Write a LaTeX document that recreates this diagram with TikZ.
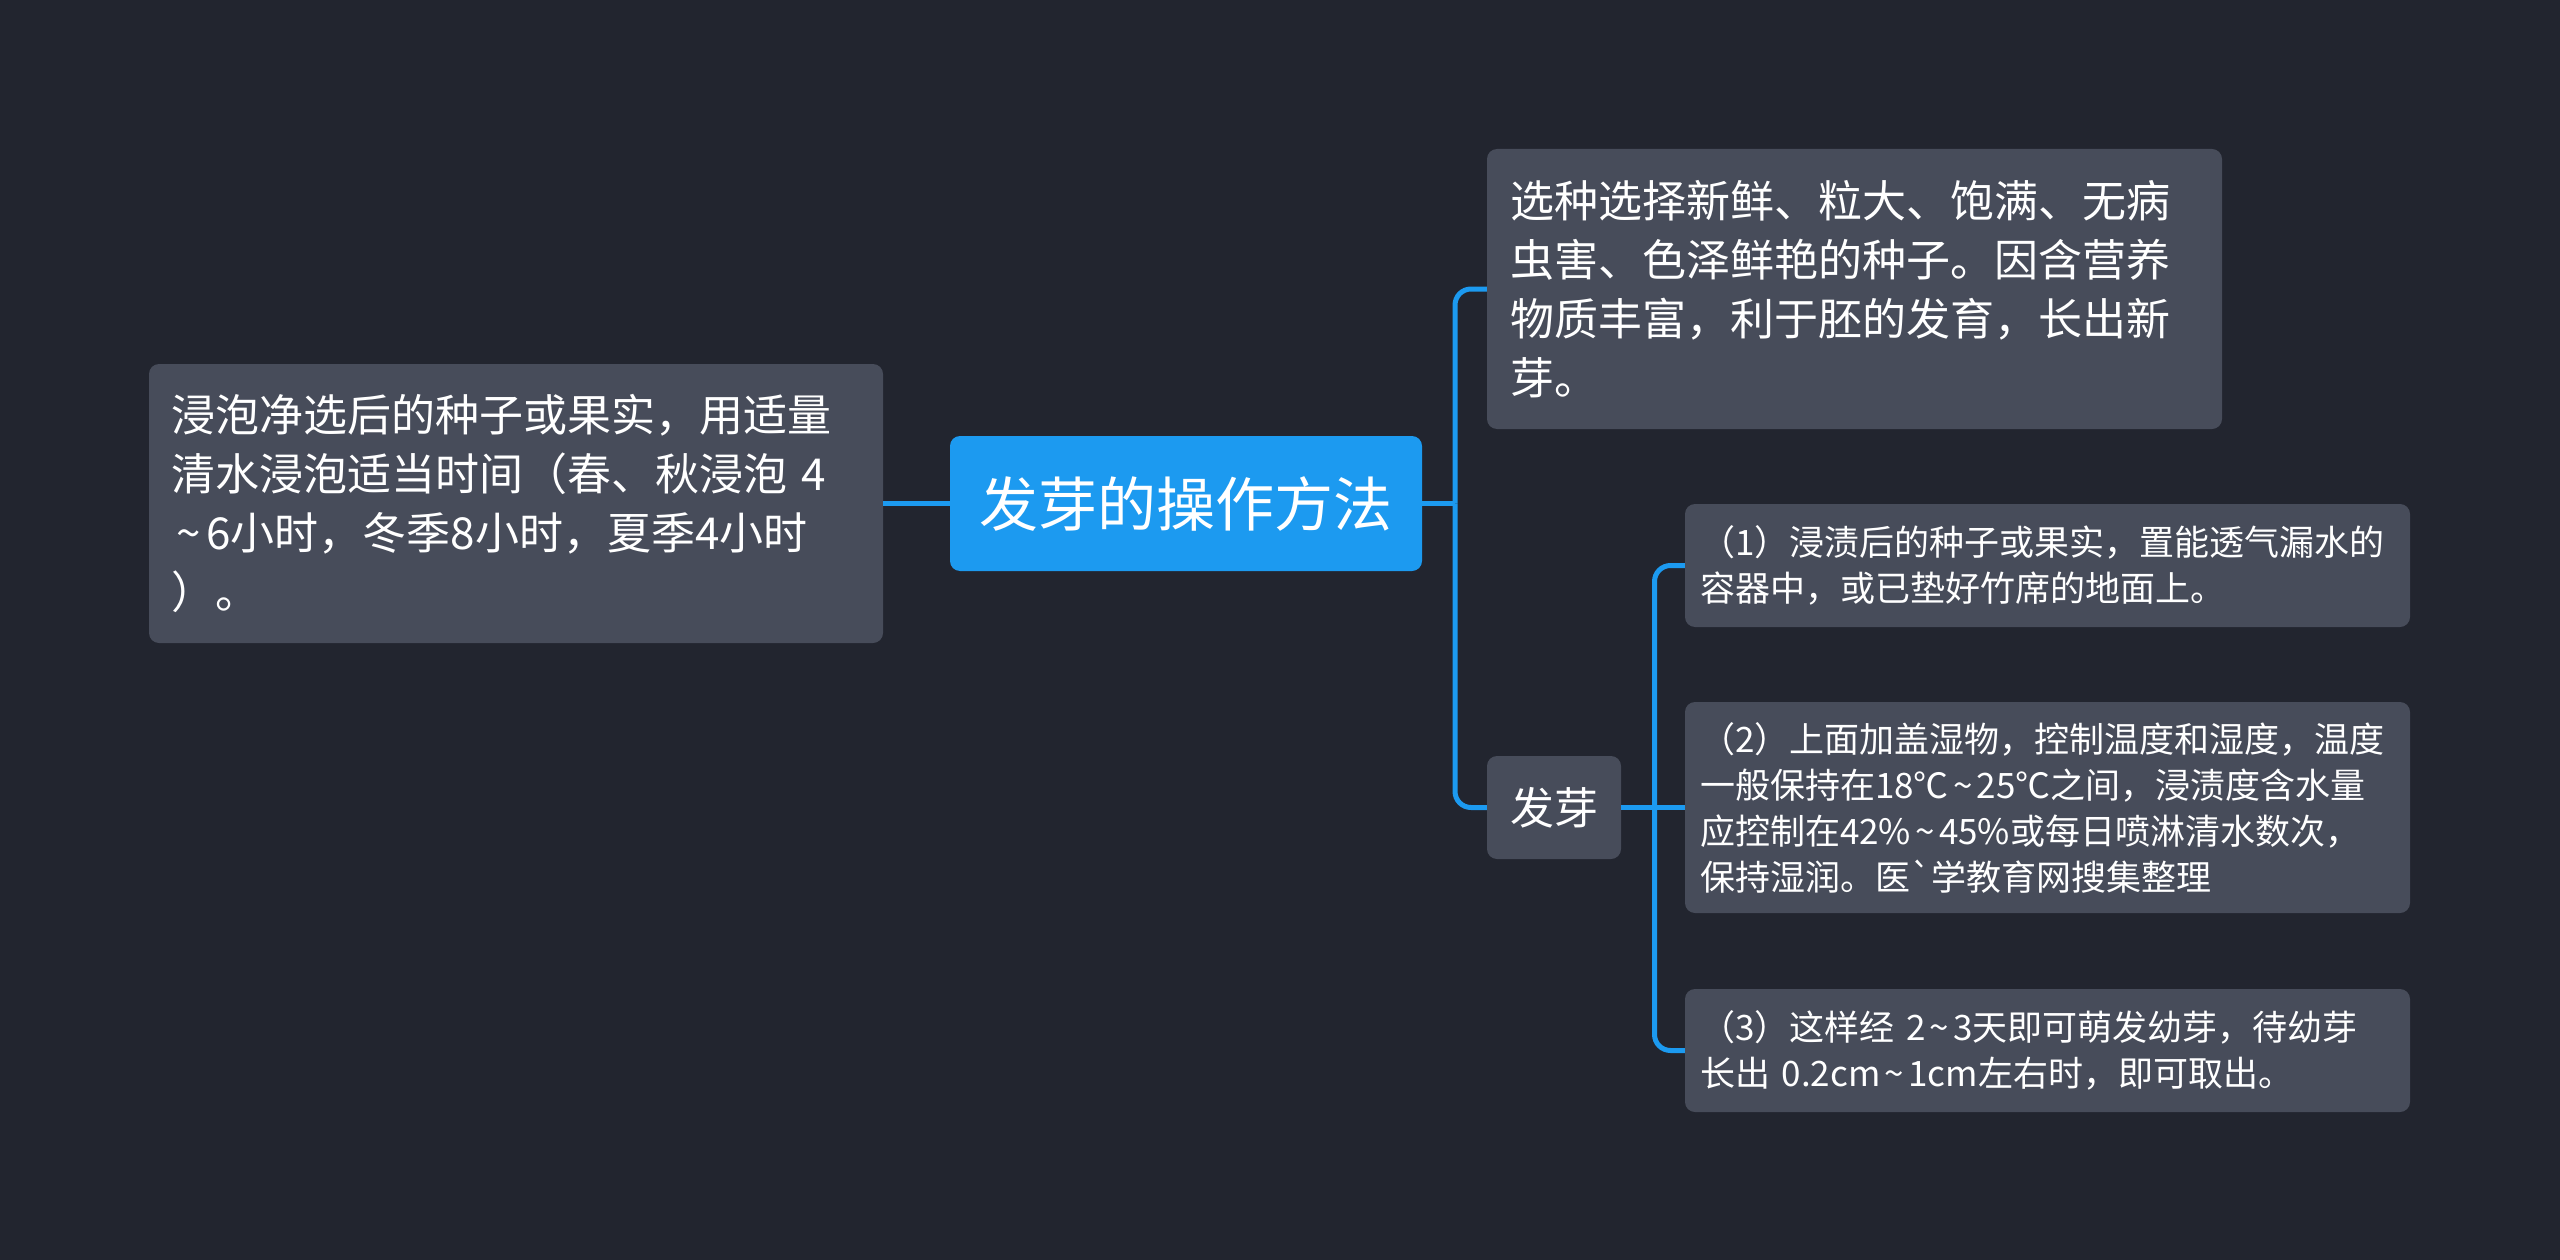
\documentclass[tikz,border=0pt]{standalone}
\usepackage{fontspec}
\setmainfont{Noto Sans CJK SC}
\definecolor{hintergrund}{HTML}{22252F}
\definecolor{kastengrau}{HTML}{474C5A}
\definecolor{blau}{HTML}{1C9AF0}
%kleine Tilde wie im Original
\newcommand{\welle}{\makebox[0.8em]{\textasciitilde}}

\begin{document}
\begin{tikzpicture}
    [
    x=1pt, y=-1pt,
    %Voreinstellung für Knoten und Linien
    kasten/.style={fill=kastengrau, text=white, rounded corners=10, align=left,
        inner ysep=0pt, font=\fontsize{44}{59}\selectfont},
    klein/.style={kasten, inner xsep=15pt, text width=695pt, minimum height=123pt,
        font=\fontsize{35}{46}\selectfont},
    linie/.style={blau, line width=5pt, rounded corners=16}
    ]
    
    %Hintergrund
    \fill[hintergrund] (0,0) rectangle (2560,1260);
    \useasboundingbox (0,0) rectangle (2560,1260);
    
    %Hauptthema
    \node[kasten, fill=blau, align=center, minimum width=472pt, minimum height=135pt,
        font=\fontsize{59}{70}\selectfont] (wurzel) at (1186,503.5) {发芽的操作方法};
    
    %linker Ast
    \node[kasten, inner xsep=22pt, text width=690pt, minimum height=279pt] (einweichen) at (516,503.5)
    {浸泡净选后的种子或果实，用适量\\清水浸泡适当时间（春、秋浸泡 4\\\welle 6小时，冬季8小时，夏季4小时\\）。};
    
    %rechte Äste
    \node[kasten, inner xsep=23pt, text width=689pt, minimum height=280pt] (auswahl) at (1854.5,289)
    {选种选择新鲜、粒大、饱满、无病\\虫害、色泽鲜艳的种子。因含营养\\物质丰富，利于胚的发育，长出新\\芽。};
    \node[kasten, align=center, minimum width=134pt, minimum height=103pt] (keimen) at (1554,807.5) {发芽};
    
    %Schritte
    \node[klein] (schritt1) at (2047.5,565.5)
    {（1）浸渍后的种子或果实，置能透气漏水的\\容器中，或已垫好竹席的地面上。};
    \node[klein, minimum height=211pt] (schritt2) at (2047.5,807.5)
    {（2）上面加盖湿物，控制温度和湿度，温度\\一般保持在18℃\welle 25℃之间，浸渍度含水量\\应控制在42\%\welle 45\%或每日喷淋清水数次，\\保持湿润。医\textasciigrave 学教育网搜集整理};
    \node[klein] (schritt3) at (2047.5,1050.5)
    {（3）这样经 2\welle 3天即可萌发幼芽，待幼芽\\长出 0.2cm\welle 1cm左右时，即可取出。};
    
    %Verbindungen
    \coordinate (knick1) at (1455,503.5);
    \coordinate (knick2) at (1654.5,807.5);
    \draw[linie] (wurzel.west) -- (einweichen.east);
    \draw[linie] (wurzel.east) -- (knick1);
    \foreach \ziel in {auswahl,keimen}
    \draw[linie] (knick1) |- (\ziel.west);
    \draw[linie] (keimen.east) -- (schritt2.west);
    \foreach \ziel in {schritt1,schritt3}
    \draw[linie] (knick2) |- (\ziel.west);
\end{tikzpicture}
\end{document}
